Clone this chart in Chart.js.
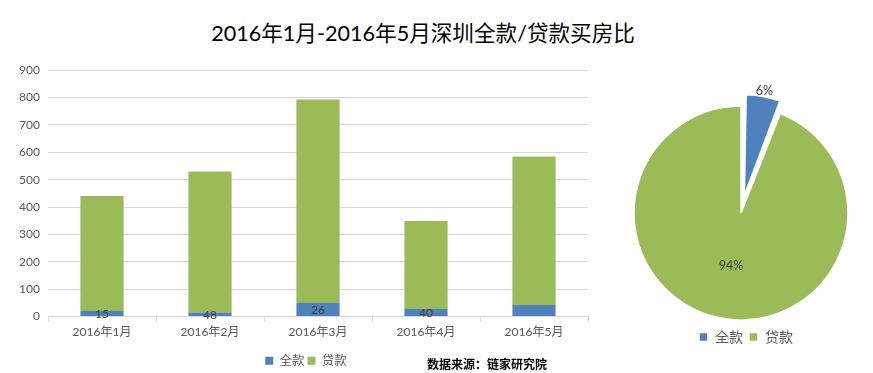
<!DOCTYPE html>
<html>
<head>
<meta charset="utf-8">
<script src="https://cdn.jsdelivr.net/npm/chart.js@4/dist/chart.umd.min.js"></script>
<style>
  html, body { margin: 0; padding: 0; background: #fff; overflow: hidden; width: 873px; height: 373px; }
  #title { position: absolute; left: 0; top: 16px; width: 846px; text-align: center; line-height: 28px;
           font: 21.6px Lato, "Noto Sans CJK SC", sans-serif; color: #000; }
  #barWrap { position: absolute; left: 0; top: 55px; width: 614px; height: 325px; }
  #pieWrap { position: absolute; left: 600px; top: 60px; width: 273px; height: 313px; }
  #source { position: absolute; left: 427px; top: 355px; line-height: 16px;
            font: bold 12px "Noto Sans CJK SC", sans-serif; color: #000; }
</style>
</head>
<body>
<div id="title">2016年1月-2016年5月深圳全款/贷款买房比</div>
<div id="barWrap"><canvas id="barChart"></canvas></div>
<div id="pieWrap"><canvas id="pieChart"></canvas></div>
<div id="source">数据来源：链家研究院</div>
<script>
// data
const months = ["2016年1月", "2016年2月", "2016年3月", "2016年4月", "2016年5月"];
const fullPay = [20, 15, 49, 27, 42];
const loanPay = [420, 515, 744, 322, 543];
const fullPayLabels = ["15", "48", "26", "40", ""];
const seriesNames = ["全款", "贷款"];
const pieShares = [6, 94];

const BLUE = "#4F81BD";
const GREEN = "#9BBB59";
const FONT = 'Lato, "Noto Sans CJK SC", sans-serif';
const PIE_RADIUS = 107;

// number labels inside the blue segments
const barLabels = {
  id: "barLabels",
  afterDatasetsDraw(chart) {
    const ctx = chart.ctx;
    const meta = chart.getDatasetMeta(0);
    ctx.save();
    ctx.font = "12px " + FONT;
    ctx.fillStyle = "#404040";
    ctx.textAlign = "center";
    ctx.textBaseline = "middle";
    meta.data.forEach((bar, i) => {
      if (!fullPayLabels[i]) return;
      ctx.fillText(fullPayLabels[i], bar.x, (bar.y + bar.base) / 2 + 1);
    });
    ctx.restore();
  },
};

// nudge a legend sideways
const legendShift = {
  id: "legendShift",
  afterLayout(chart, args, opts) {
    chart.legend.left += opts.dx;
    chart.legend.right += opts.dx;
  },
};

new Chart(document.getElementById("barChart"), {
  type: "bar",
  data: {
    labels: months,
    datasets: [
      { label: seriesNames[0], data: fullPay, backgroundColor: BLUE },
      { label: seriesNames[1], data: loanPay, backgroundColor: GREEN },
    ],
  },
  plugins: [barLabels, legendShift],
  options: {
    responsive: true,
    maintainAspectRatio: false,
    animation: false,
    layout: { padding: { top: 15, right: 26, bottom: 3, left: 0 } },
    datasets: { bar: { barPercentage: 0.4, categoryPercentage: 1 } },
    plugins: {
      tooltip: { enabled: false },
      legendShift: { dx: 12 },
      legend: {
        position: "bottom",
        labels: {
          boxWidth: 8,
          boxHeight: 8,
          padding: 3,
          color: "#595959",
          font: { size: 12.5, family: FONT },
        },
      },
    },
    scales: {
      x: {
        stacked: true,
        afterFit: (scale) => { scale.height = 35; },
        border: { color: "#d9d9d9" },
        grid: { offset: true, drawOnChartArea: false, tickLength: 5, color: "#d9d9d9" },
        ticks: { padding: 3, color: "#595959", font: { size: 12, family: FONT } },
      },
      y: {
        stacked: true,
        min: 0,
        max: 900,
        afterFit: (scale) => { scale.width = 48; },
        border: { display: false },
        grid: { color: "#d9d9d9", drawTicks: false },
        ticks: { stepSize: 100, padding: 8, color: "#595959", font: { size: 12, family: FONT } },
      },
    },
  },
});

// percent labels on the pie, and a slightly smaller exploded slice
const pieLabels = {
  id: "pieLabels",
  beforeDatasetsDraw(chart) {
    chart.getDatasetMeta(0).data.forEach((arc) => {
      const t = (arc.options.offset || 0) / 4;
      if (!t) return;
      const fix = 1 - Math.sin(Math.min(Math.PI, arc.circumference));
      arc.outerRadius = PIE_RADIUS * 0.94 - t * fix;
    });
  },
  afterDatasetsDraw(chart) {
    const ctx = chart.ctx;
    ctx.save();
    ctx.font = "12.5px " + FONT;
    ctx.fillStyle = "#404040";
    ctx.textAlign = "center";
    ctx.textBaseline = "middle";
    chart.getDatasetMeta(0).data.forEach((arc, i) => {
      const mid = (arc.startAngle + arc.endAngle) / 2;
      const t = (arc.options.offset || 0) / 4;
      const r = t ? t + PIE_RADIUS * 0.94 + 6 : PIE_RADIUS * 0.5;
      ctx.fillText(pieShares[i] + "%", arc.x + Math.cos(mid) * r, arc.y + Math.sin(mid) * r);
    });
    ctx.restore();
  },
};

new Chart(document.getElementById("pieChart"), {
  type: "pie",
  data: {
    labels: seriesNames,
    datasets: [
      {
        data: pieShares,
        backgroundColor: [BLUE, GREEN],
        borderColor: "#fff",
        borderWidth: 1.5,
        offset: [72, 0],
      },
    ],
  },
  plugins: [pieLabels, legendShift],
  options: {
    responsive: true,
    maintainAspectRatio: false,
    animation: false,
    radius: PIE_RADIUS,
    layout: { padding: { top: 42, right: 0, bottom: 19, left: 9 } },
    plugins: {
      tooltip: { enabled: false },
      legendShift: { dx: 5 },
      legend: {
        position: "bottom",
        labels: {
          boxWidth: 9,
          boxHeight: 9,
          padding: 6,
          color: "#595959",
          font: { size: 14, family: FONT },
        },
      },
    },
  },
});
</script>
</body>
</html>
